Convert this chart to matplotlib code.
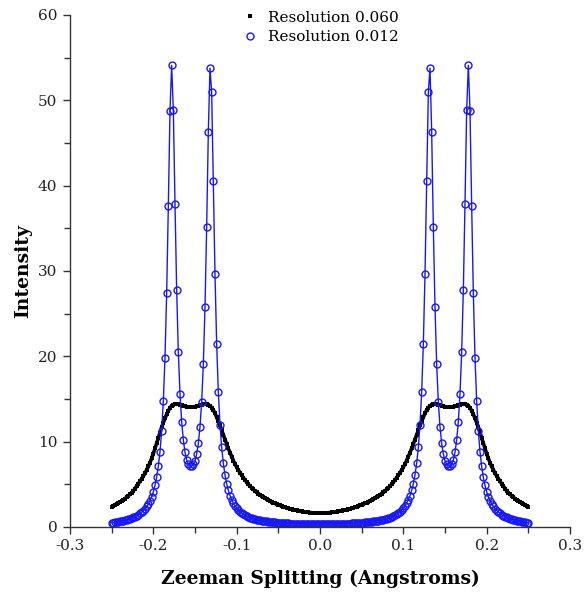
"""
zeeman_profile.py -- Zeeman splitting intensity profile at two instrument resolutions.
"""

import numpy as np
import matplotlib
matplotlib.use("Agg")
import matplotlib.pyplot as plt
from matplotlib.ticker import MultipleLocator, FormatStrFormatter

plt.rcParams["font.family"] = ["DejaVu Serif"]
plt.rcParams["axes.unicode_minus"] = False

# sampling: x from -0.25 to 0.00 Angstroms, step 0.002 (profile is symmetric about 0)
x_start, x_stop, n_half = -0.25, 0.0, 126

# Resolution 0.060 (black squares), left half
res_060 = [
    2.35, 2.47, 2.59, 2.71, 2.83, 2.95, 3.07, 3.19, 3.33, 3.49,
    3.65, 3.83, 4.01, 4.23, 4.50, 4.80, 5.08, 5.36, 5.66, 5.98,
    6.30, 6.70, 7.10, 7.55, 8.05, 8.60, 9.20, 9.80, 10.43, 11.07,
    11.70, 12.22, 12.74, 13.20, 13.60, 14.00, 14.20, 14.35, 14.42, 14.42,
    14.40, 14.33, 14.25, 14.18, 14.13, 14.10, 14.08, 14.07, 14.07, 14.08,
    14.10, 14.13, 14.18, 14.25, 14.33, 14.40, 14.42, 14.42, 14.35, 14.20,
    14.00, 13.70, 13.33, 12.88, 12.40, 11.90, 11.35, 10.80, 10.25, 9.72,
    9.20, 8.72, 8.24, 7.79, 7.39, 7.00, 6.68, 6.36, 6.06, 5.78,
    5.50, 5.26, 5.02, 4.80, 4.60, 4.40, 4.24, 4.08, 3.92, 3.76,
    3.60, 3.48, 3.36, 3.25, 3.15, 3.05, 2.95, 2.85, 2.76, 2.68,
    2.60, 2.52, 2.44, 2.37, 2.31, 2.25, 2.19, 2.13, 2.08, 2.03,
    1.98, 1.94, 1.90, 1.86, 1.82, 1.79, 1.76, 1.73, 1.71, 1.69,
    1.67, 1.65, 1.64, 1.63, 1.62, 1.62,
]

# Resolution 0.012 (blue circles), left half
res_012 = [
    0.48, 0.51, 0.55, 0.59, 0.63, 0.67, 0.71, 0.76, 0.81, 0.86,
    0.92, 0.98, 1.06, 1.14, 1.23, 1.34, 1.45, 1.59, 1.75, 1.93,
    2.15, 2.41, 2.71, 3.09, 3.55, 4.13, 4.87, 5.82, 7.10, 8.83,
    11.26, 14.75, 19.86, 27.38, 37.66, 48.78, 54.10, 48.87, 37.90, 27.78,
    20.45, 15.62, 12.34, 10.20, 8.75, 7.85, 7.35, 7.15, 7.15, 7.35,
    7.75, 8.55, 9.80, 11.75, 14.65, 19.10, 25.75, 35.15, 46.34, 53.76,
    50.93, 40.49, 29.64, 21.45, 15.81, 11.99, 9.34, 7.46, 6.10, 5.08,
    4.29, 3.68, 3.20, 2.80, 2.48, 2.22, 2.00, 1.80, 1.64, 1.50,
    1.38, 1.27, 1.18, 1.09, 1.02, 0.96, 0.90, 0.85, 0.81, 0.77,
    0.74, 0.71, 0.68, 0.65, 0.62, 0.60, 0.58, 0.56, 0.54, 0.52,
    0.50, 0.49, 0.47, 0.46, 0.45, 0.43, 0.42, 0.41, 0.40, 0.40,
    0.39, 0.38, 0.38, 0.37, 0.37, 0.36, 0.36, 0.36, 0.35, 0.35,
    0.35, 0.35, 0.34, 0.34, 0.34, 0.34,
]

labels = ["Resolution 0.060", "Resolution 0.012"]

# mirror the left half onto the right (profile is symmetric about zero)
x_half = np.linspace(x_start, x_stop, n_half)
x_full = np.concatenate([x_half, -x_half[-2::-1]])
y_060 = np.concatenate([res_060, res_060[-2::-1]])
y_012 = np.concatenate([res_012, res_012[-2::-1]])

fig = plt.figure(figsize=(5.87, 6.03), dpi=100)
ax = fig.add_axes([70/587, 76/603, 500/587, 512/603])

# dense black squares read as one thick band
ax.plot(x_full, y_060, linestyle="-", linewidth=2.6, marker="s", markersize=3.4,
        color="black", markeredgewidth=0, solid_capstyle="butt", label=labels[0])
ax.plot(x_full, y_012, color="#1818f4", linewidth=1.0, marker="o",
        markersize=5.0, markerfacecolor="none", markeredgecolor="#1818f4",
        markeredgewidth=1.0, label=labels[1])

ax.set_xlim(-0.3, 0.3)
ax.set_ylim(0, 60)
ax.xaxis.set_major_locator(MultipleLocator(0.1))
ax.xaxis.set_minor_locator(MultipleLocator(0.05))
ax.xaxis.set_major_formatter(FormatStrFormatter("%.1f"))
ax.yaxis.set_major_locator(MultipleLocator(10))
ax.yaxis.set_minor_locator(MultipleLocator(5))

for side in ["top", "right"]:
    ax.spines[side].set_visible(False)
for side in ["left", "bottom"]:
    ax.spines[side].set_color("#333333")
    ax.spines[side].set_linewidth(1.0)

ax.tick_params(which="major", direction="out", length=5, width=1,
               color="#333333", labelsize=11, labelcolor="#222222", pad=4)
ax.tick_params(which="minor", direction="out", length=4, width=1, color="#333333")

ax.set_xlabel("Zeeman Splitting (Angstroms)", fontsize=13.5, fontweight="bold",
              labelpad=12)
ax.set_ylabel("Intensity", fontsize=13.5, fontweight="bold", labelpad=4)

leg = ax.legend(loc="upper center", bbox_to_anchor=(0.5, 1.035), frameon=False,
                fontsize=11, handlelength=1.2, handletextpad=0.6,
                labelspacing=0.35, markerscale=1.0)
for h in leg.legend_handles:
    h.set_linestyle("none")
leg.legend_handles[0].set_markersize(3.0)

fig.savefig("out.png", dpi=100)
